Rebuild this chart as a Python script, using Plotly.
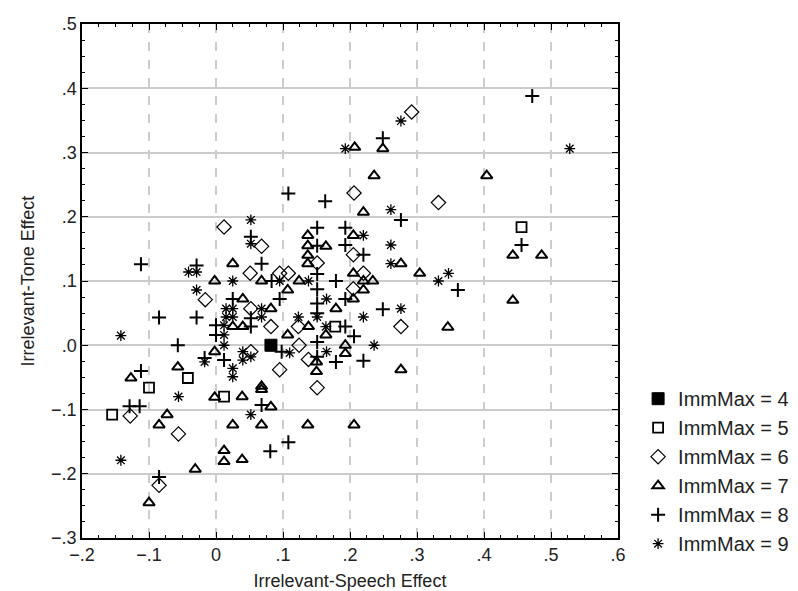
import plotly.graph_objects as go

# ImmMax = 4 (filled square)
x4 = [0.082]
y4 = [0.000]
# ImmMax = 5 (open square)
x5 = [0.456, -0.042, -0.100, -0.155, 0.012, 0.178]
y5 = [0.184, -0.051, -0.066, -0.108, -0.080, 0.029]
# ImmMax = 6 (open diamond)
x6 = [0.292, 0.012, 0.068, 0.051, 0.095, 0.108, 0.151, 0.206, 0.332, 0.205, 0.220, 0.205,
      0.276, -0.016, -0.128, -0.056, -0.085, 0.151, 0.052, 0.082, 0.123, 0.124, 0.052,
      0.138, 0.095]
y6 = [0.363, 0.184, 0.154, 0.112, 0.112, 0.112, 0.128, 0.237, 0.222, 0.141, 0.112, 0.088,
      0.029, 0.071, -0.110, -0.138, -0.218, -0.066, 0.057, 0.029, 0.029, 0.000, -0.010,
      -0.022, -0.038]
# ImmMax = 7 (open triangle)
x7 = [0.207, 0.249, 0.404, 0.443, 0.486, 0.443, 0.025, 0.137, 0.137, 0.137, 0.137, 0.164,
      0.236, 0.220, 0.205, 0.276, 0.205, 0.304, 0.220, 0.234, 0.220, 0.205, 0.346, 0.193,
      0.193, 0.276, 0.206, -0.002, -0.002, -0.057, -0.127, -0.002, -0.073, -0.085, -0.031,
      -0.100, 0.039, 0.068, 0.082, 0.025, 0.068, 0.137, 0.012, 0.012, 0.039, 0.068, 0.124,
      0.107, 0.040, 0.179, 0.082, 0.025, 0.040, 0.138, 0.107, 0.164, 0.150, 0.150, 0.068]
y7 = [0.308, 0.306, 0.264, 0.140, 0.140, 0.070, 0.127, 0.171, 0.155, 0.140, 0.127, 0.154,
      0.264, 0.207, 0.171, 0.127, 0.112, 0.112, 0.100, 0.100, 0.086, 0.072, 0.028, 0.000,
      -0.013, -0.038, -0.124, 0.100, -0.010, -0.034, -0.051, -0.081, -0.108, -0.124, -0.193,
      -0.245, -0.080, -0.069, -0.096, -0.124, -0.124, -0.124, -0.164, -0.181, -0.178, 0.100, 0.100,
      0.086, 0.072, 0.057, 0.057, 0.029, 0.029, 0.029, 0.016, 0.016, -0.026, -0.041, -0.064]
# ImmMax = 8 (plus)
x8 = [0.472, 0.249, 0.456, -0.112, 0.108, 0.163, 0.052, 0.068, 0.151, 0.193, 0.151, 0.193,
      0.151, 0.276, 0.220, 0.361, 0.193, 0.249, 0.206, 0.220, -0.029, -0.085, -0.029, -0.057,
      -0.017, -0.112, -0.129, -0.114, -0.085, 0.068, 0.108, 0.081, 0.083, 0.179, 0.095, 0.025,
      0.151, 0.151, 0.151, 0.052, 0.000, 0.000, 0.052, 0.193, 0.098, 0.151, 0.151, 0.179, 0.012]
y8 = [0.388, 0.322, 0.156, 0.126, 0.236, 0.224, 0.169, 0.127, 0.183, 0.183, 0.155, 0.156,
      0.111, 0.195, 0.141, 0.086, 0.072, 0.056, 0.014, -0.024, 0.124, 0.043, 0.043, 0.000,
      -0.020, -0.040, -0.095, -0.095, -0.205, -0.093, -0.151, -0.165, 0.100, 0.100, 0.072, 0.072,
      0.087, 0.065, 0.050, 0.042, 0.031, 0.016, 0.029, 0.029, -0.010, 0.005, -0.018, -0.026, -0.023]
# ImmMax = 9 (asterisk)
x9 = [0.276, 0.193, 0.528, 0.052, 0.052, 0.261, 0.220, 0.261, 0.261, 0.347, 0.332, 0.276,
      0.220, 0.236, -0.041, -0.029, -0.029, -0.142, -0.017, -0.056, -0.142, 0.052, 0.025,
      0.095, 0.138, 0.165, 0.151, 0.015, 0.025, 0.068, 0.015, 0.025, 0.068, 0.123, 0.012,
      0.012, 0.012, 0.164, 0.110, 0.165, 0.040, 0.040, 0.052, 0.025, 0.025]
y9 = [0.349, 0.306, 0.306, 0.195, 0.158, 0.211, 0.171, 0.156, 0.127, 0.112, 0.100, 0.057,
      0.044, 0.000, 0.114, 0.114, 0.086, 0.015, -0.026, -0.080, -0.179, -0.108, 0.100,
      0.100, 0.100, 0.072, 0.044, 0.057, 0.057, 0.057, 0.044, 0.044, 0.044, 0.044, 0.031,
      0.016, 0.000, 0.029, -0.012, -0.010, -0.010, -0.023, -0.018, -0.036, -0.049]

x_ticks = [-0.2, -0.1, 0.0, 0.1, 0.2, 0.3, 0.4, 0.5, 0.6]
x_tick_labels = ["\u2212.2", "\u2212.1", "0", ".1", ".2", ".3", ".4", ".5", ".6"]
y_ticks = [-0.3, -0.2, -0.1, 0.0, 0.1, 0.2, 0.3, 0.4, 0.5]
y_tick_labels = ["\u2212.3", "\u2212.2", "\u2212.1", ".0", ".1", ".2", ".3", ".4", ".5"]

series = [
    ("ImmMax = 4", x4, y4, "square", 12, 1),
    ("ImmMax = 5", x5, y5, "square-open", 10, 1.8),
    ("ImmMax = 6", x6, y6, "diamond-open", 11, 1.2),
    ("ImmMax = 7", x7, y7, "triangle-up-open", 10, 2),
    ("ImmMax = 8", x8, y8, "cross-thin-open", 10, 2),
    ("ImmMax = 9", x9, y9, "asterisk-open", 9, 1.3),
]

fig = go.Figure()
for name, xs, ys, sym, size, lw in series:
    fig.add_trace(go.Scatter(
        x=xs, y=ys, mode="markers", name=name,
        marker=dict(symbol=sym, size=size, color="black",
                    line=dict(color="black", width=lw)),
    ))

font_family = "Liberation Sans, Arial, Helvetica, sans-serif"
fig.update_layout(
    width=798, height=591,
    paper_bgcolor="white", plot_bgcolor="white",
    margin=dict(l=74, r=178, t=16, b=61),
    font=dict(family=font_family, color="#222", size=18),
    showlegend=True,
    legend=dict(x=1.0375, y=0.13, xanchor="left", yanchor="middle",
                font=dict(size=20, color="#222"), bgcolor="rgba(0,0,0,0)",
                itemsizing="trace", tracegroupgap=0),
)
fig.update_xaxes(
    range=[-0.2, 0.6], tickvals=x_ticks, ticktext=x_tick_labels,
    showline=True, linecolor="black", linewidth=1.5, mirror="ticks",
    ticks="inside", ticklen=6, tickcolor="black",
    minor=dict(dtick=0.025, ticks="inside", ticklen=3, tickcolor="black", showgrid=False),
    showgrid=True, gridcolor="#cccccc", gridwidth=1.5, griddash="dash",
    zeroline=False, automargin=False,
    title=dict(text="Irrelevant-Speech Effect", font=dict(size=18), standoff=10),
    tickfont=dict(size=18),
)
fig.update_yaxes(
    range=[-0.3, 0.5], tickvals=y_ticks, ticktext=y_tick_labels,
    showline=True, linecolor="black", linewidth=1.5, mirror="ticks",
    ticks="inside", ticklen=6, tickcolor="black",
    minor=dict(dtick=0.025, ticks="inside", ticklen=3, tickcolor="black", showgrid=False),
    showgrid=True, gridcolor="#cccccc", gridwidth=1.5,
    zeroline=False, automargin=False,
    title=dict(text="Irrelevant-Tone Effect", font=dict(size=18), standoff=12),
    tickfont=dict(size=18),
)

fig.write_html("out.html")
